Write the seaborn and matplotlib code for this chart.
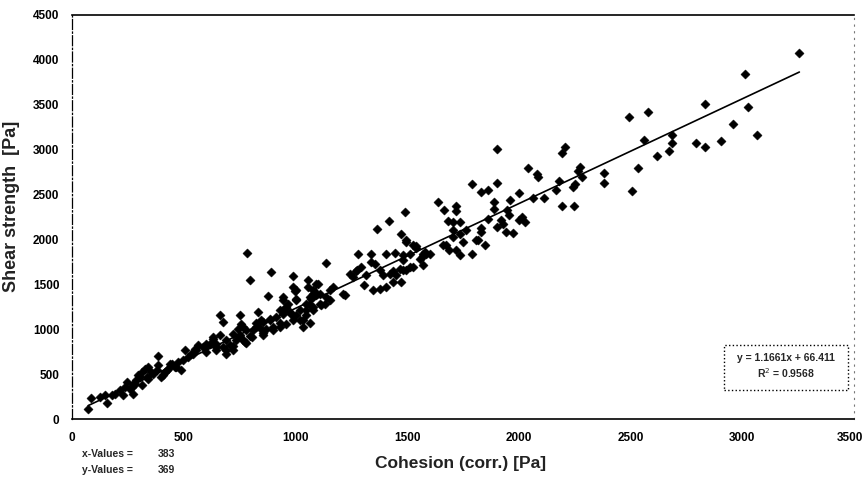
import numpy as np
import pandas as pd
import seaborn as sns
import matplotlib.pyplot as plt
import matplotlib.transforms as mtransforms
from matplotlib.patches import Rectangle

# cohesion (corr.) [Pa]
cohesion = [
    73, 84, 125, 155, 148, 178, 192, 215, 229, 237, 245, 259, 274, 289, 297, 312, 326, 341, 334, 312,
    340, 364, 379, 386, 386, 401, 416, 431, 446, 461, 475, 490, 498, 505, 520, 535, 550, 565,
    268, 282, 274, 304, 356, 409, 424, 438, 468, 543, 557, 587, 602, 632, 647, 647, 677, 692, 692,
    602, 722, 751, 774,
    784, 796, 893, 990, 878, 997, 1057, 1094, 662, 677, 751, 759, 744, 833, 848, 826, 870, 885, 915,
    930, 945, 960, 982, 1005, 1020, 1034, 1049, 1064, 1079, 1087, 1049, 781, 804, 721, 692, 662, 632,
    617, 595, 647, 707, 766, 855, 900, 930, 960, 990,
    945, 967, 952, 975, 1005, 945, 930, 900, 885, 855, 840, 855, 826, 811, 796, 766, 751, 736, 721,
    781, 1020, 1035, 1064,
    1139, 1101, 1057, 1079, 1109, 1139, 1154, 1131, 1117, 1154, 1094, 1072, 1064, 1079, 1049, 1005,
    1169, 1221, 1213, 1258, 1273, 1243, 1274, 1296, 1281, 1340, 1340, 1355, 1318, 1378, 1392, 1422,
    1437, 1452, 1467, 1482, 1512, 1474, 1437, 1407, 1378, 1348, 1307, 1364, 1419, 1489, 1474, 1497,
    1526, 1541, 1579, 1601, 1572, 1482, 1407, 1444, 1109, 990, 1005, 1079,
    1497, 1541, 1512, 1571, 1586, 1482, 1526, 1497, 1571, 1556,
    1638, 1665, 1720, 1720, 1683, 1708, 1735, 1705, 1735, 1765, 1676, 1690, 1717, 1735, 1705, 1750,
    1789, 1810, 1817, 1847, 1832, 1832, 1661,
    1790, 1832, 1862, 1902, 1902, 2000, 1959, 1889, 1889, 1947, 1956, 1862, 1922, 1929, 1902, 1944,
    1974, 2003, 2015, 2029,
    2042, 2083, 2086, 2063, 2112, 2167, 2179, 2193, 2246, 2245, 2252, 2285, 2266, 2272, 2194, 2208,
    2382, 2382, 2507, 2536, 2494, 2562, 2577, 2618, 2671, 2685, 2685, 2794, 2835, 2835, 2904, 2958,
    3068, 3028, 3013, 3256,
]

# shear strength [Pa]
shear = [
    111, 241, 248, 181, 267, 267, 285, 322, 267, 359, 415, 341, 396, 433, 489, 526, 563, 581, 470, 378,
    452, 507, 544, 703, 600, 470, 526, 563, 618, 581, 637, 544, 655, 767, 692, 729, 785, 822,
    359, 396, 285, 470, 526, 489, 544, 618, 581, 729, 767, 803, 840, 896, 840, 767, 803, 767, 729,
    750, 767, 915, 859,
    1848, 1552, 1637, 1592, 1370, 1426, 1544, 1507, 1155, 1081, 1155, 1063, 1007, 1192, 1100, 1026, 1007, 1118, 1137,
    1211, 1322, 1248, 1174, 1322, 1211, 1100, 1285, 1359, 1248, 1415, 1155, 989, 915, 952, 878, 933, 915,
    841, 803, 803, 822, 878, 933, 989, 1026, 1063, 1100,
    1359, 1285, 1233, 1196, 1159, 1174, 1067, 1030, 1104, 1085, 1011, 959, 1067, 993, 922, 1030, 941, 885, 811,
    848, 1104, 1030, 1067,
    1737, 1507, 1470, 1433, 1396, 1359, 1433, 1285, 1267, 1322, 1378, 1341, 1267, 1211, 1211, 1433,
    1470, 1385, 1396, 1581, 1648, 1618, 1655, 1692, 1841, 1841, 1748, 1722, 1600, 1655, 1600, 1618,
    1648, 1600, 1674, 1655, 1692, 1526, 1526, 1470, 1452, 1433, 1489, 2118, 2211, 2304, 2063, 1970,
    1933, 1900, 1859, 1833, 1811, 1822, 1841, 1855, 1285, 1470, 1341, 1396,
    1989, 1922, 1841, 1841, 1838, 1767, 1692, 1659, 1711, 1785,
    2415, 2330, 2370, 2319, 2211, 2192, 2200, 2100, 2063, 2111, 1941, 1878, 1878, 1822, 2026, 1970,
    1841, 1990, 1997, 1944, 2130, 2081, 1933,
    2622, 2533, 2555, 3007, 2625, 2522, 2441, 2415, 2341, 2333, 2274, 2230, 2222, 2174, 2144, 2081,
    2070, 2219, 2255, 2192,
    2792, 2730, 2692, 2459, 2459, 2555, 2655, 2374, 2370, 2581, 2618, 2692, 2767, 2804, 2963, 3026,
    2741, 2630, 2537, 2800, 3359, 3111, 3422, 2926, 2989, 3074, 3163, 3078, 3030, 3507, 3092, 3289,
    3163, 3474, 3840, 4074,
]

# linear fit as printed on the chart
slope = 1.1661
intercept = 66.411
n_x = 383
n_y = 369

df = pd.DataFrame({'Cohesion': cohesion, 'Shear': shear})
fit_x = [min(cohesion), max(cohesion)]
fit = pd.DataFrame({'Cohesion': fit_x, 'Shear': [slope * v + intercept for v in fit_x]})

sns.set_style('white')
plt.rcParams['font.family'] = ['Liberation Sans', 'DejaVu Sans']

fig = plt.figure(figsize=(8.66, 4.78), dpi=100)
ax = fig.add_axes([0.083, 0.123, 0.903, 0.846])

sns.scatterplot(data=df, x='Cohesion', y='Shear', marker='D', s=22, color='black',
                edgecolor='black', linewidth=0.3, ax=ax, legend=False)
sns.lineplot(data=fit, x='Cohesion', y='Shear', color='black', linewidth=1.2, ax=ax)

ax.set_xlim(0, 3500)
ax.set_ylim(0, 4500)
ax.set_xticks(np.arange(0, 3501, 500))
ax.set_yticks(np.arange(0, 4501, 500))
ax.tick_params(direction='inout', length=6, width=0.8, colors='black', labelsize=8.5, pad=6)
for lab in ax.get_xticklabels() + ax.get_yticklabels():
    lab.set_fontweight('bold')
# last x label sits at the right edge, nudge it in a bit
last = ax.get_xticklabels()[-1]
last.set_transform(last.get_transform() + mtransforms.ScaledTranslation(-4 / 100, 0, fig.dpi_scale_trans))

ax.set_xlabel('Cohesion (corr.) [Pa]', fontsize=12.5, fontweight='bold', color='#222222')
ax.set_ylabel('Shear strength  [Pa]', fontsize=13, fontweight='bold', color='#222222')
ax.xaxis.set_label_coords(0.497, -0.090)
ax.yaxis.set_label_coords(-0.066, 0.527)

ax.spines['top'].set_color('black')
ax.spines['top'].set_linewidth(1.2)
ax.spines['bottom'].set_color('black')
ax.spines['bottom'].set_linewidth(1.2)
ax.spines['left'].set_color('black')
ax.spines['left'].set_linewidth(0.9)
ax.spines['left'].set_linestyle((0, (8, 2, 1, 2)))
ax.spines['right'].set_color('#777777')
ax.spines['right'].set_linewidth(0.8)
ax.spines['right'].set_linestyle((0, (1, 5)))

# regression box
fig.patches.append(Rectangle((0.836, 0.184), 0.143, 0.094, transform=fig.transFigure,
                             fill=False, edgecolor='black', linewidth=1, linestyle=':'))
fig.text(0.9076, 0.251, f'y = {slope}x + {intercept}', ha='center', va='center',
         fontsize=7.5, fontweight='bold')
fig.text(0.9076, 0.220, 'R$^2$ = 0.9568', ha='center', va='center',
         fontsize=7.5, fontweight='bold')

# counts
fig.text(0.095, 0.050, 'x-Values =', fontsize=7.5, fontweight='bold', va='center')
fig.text(0.182, 0.050, str(n_x), fontsize=7.5, fontweight='bold', va='center')
fig.text(0.095, 0.017, 'y-Values =', fontsize=7.5, fontweight='bold', va='center')
fig.text(0.182, 0.017, str(n_y), fontsize=7.5, fontweight='bold', va='center')

fig.savefig('out.png', dpi=100)
